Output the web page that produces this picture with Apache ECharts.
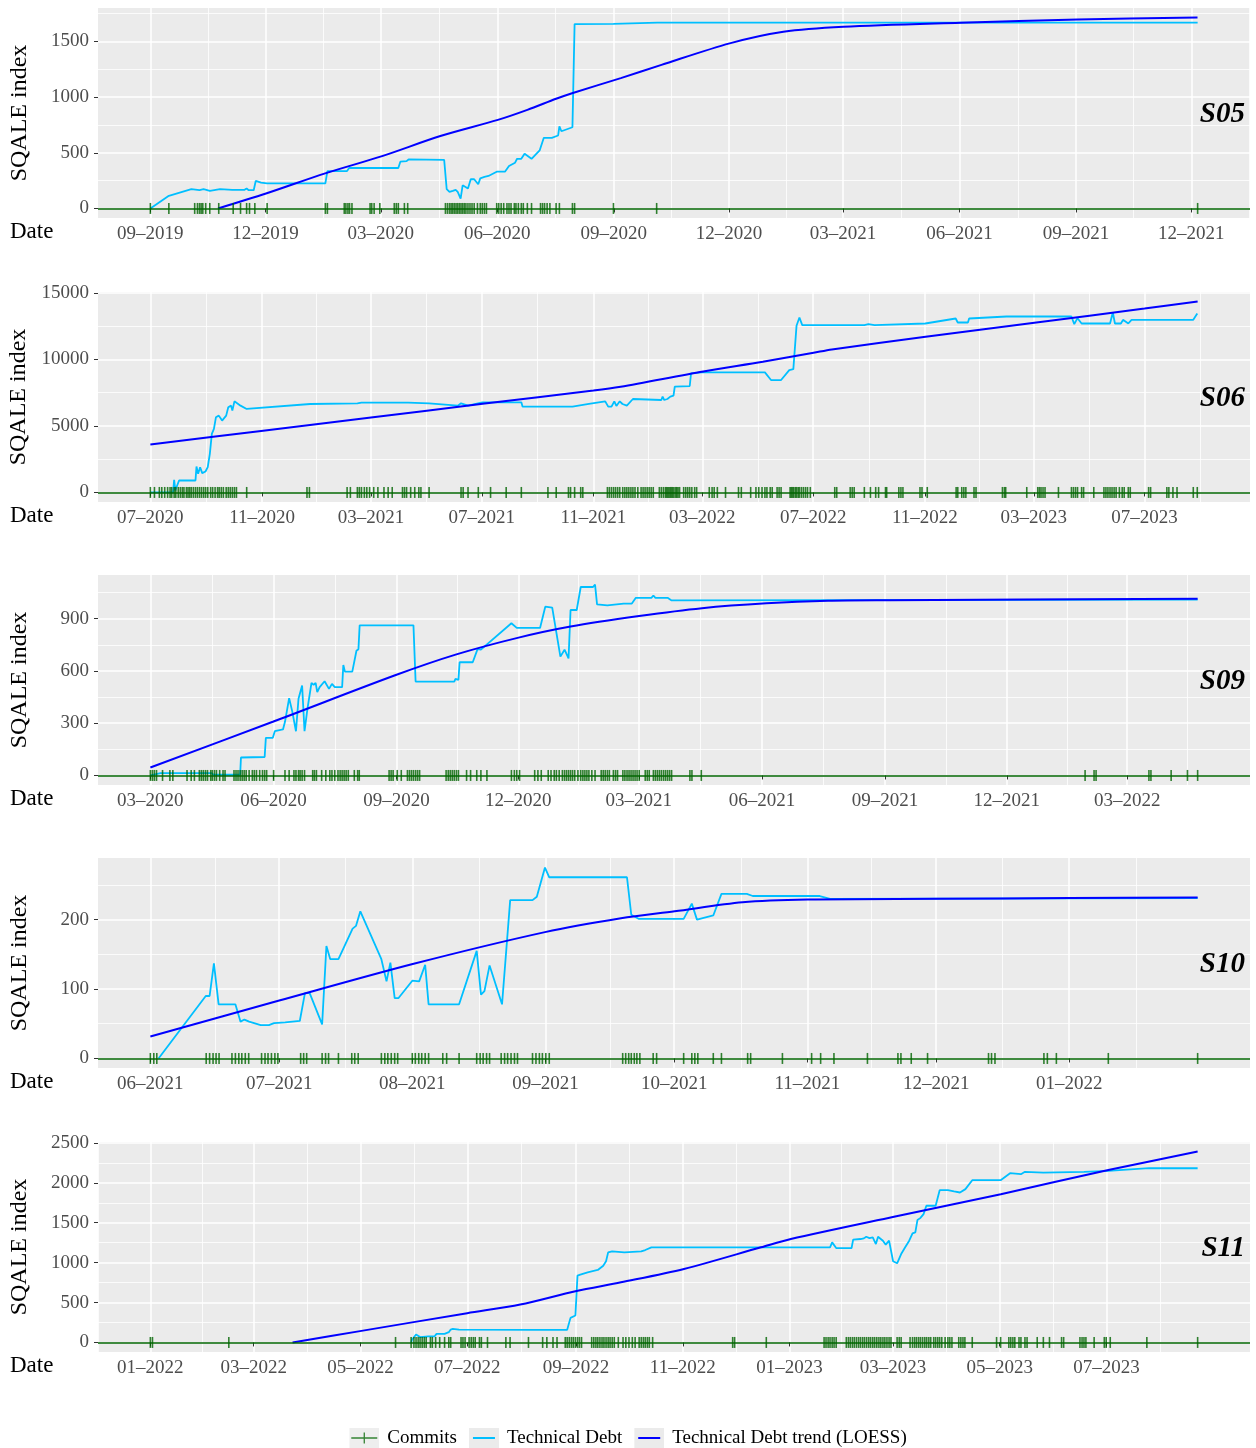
<!DOCTYPE html>
<html>
<head>
<meta charset="utf-8">
<script src="https://cdn.jsdelivr.net/npm/echarts@6/dist/echarts.min.js"></script>
<style>
html,body{margin:0;padding:0;background:#ffffff;}
#chart{width:1256px;height:1448px;}
</style>
</head>
<body>
<div id="chart"></div>
<script>
// ---------------- DATA (x = days since the project start date, y = SQALE index) ----------------
const PANEL_NAMES = ['S05', 'S06', 'S09', 'S10', 'S11'];
const SERIES_NAMES = ['Commits', 'Technical Debt', 'Technical Debt trend (LOESS)'];

// S05
const S05_START = '2019-09-01';
const S05_XTICKS = ['2019-09-01','2019-12-01','2020-03-01','2020-06-01','2020-09-01','2020-12-01','2021-03-01','2021-06-01','2021-09-01','2021-12-01'];
const S05_YTICKS = [0, 500, 1000, 1500];
const S05_DEBT = [[0,0],[14.6,113],[32.4,173],[38.8,164],[42,173],[47,158],[55,173],[64.7,167],[74.4,167],[76,179],[77.7,164],[81.6,164],[83.2,247],[87.4,232],[92.2,226],[138.2,226],[139.8,336],[155.3,336],[157,363],[195.8,363],[197.4,420],[202.3,425],[203.9,440],[232,437],[234,173],[236.2,149],[238.8,158],[241.1,167],[242.7,149],[245,89],[246.6,208],[250.8,179],[253,262],[255.7,262],[258.9,217],[260.5,270],[263.8,283],[267,292],[273.5,330],[280,330],[283.2,381],[288,411],[289.6,446],[292.9,446],[295.5,491],[301,446],[307.4,521],[310.7,634],[317,634],[322,655],[323,738],[324.6,693],[333.3,729],[335,1655],[365.7,1657],[400.4,1668],[827,1668]];
const S05_TREND = [[53.4,0],[91.3,134],[138,315],[183,470],[229,650],[274.4,795],[297.7,885],[320.4,985],[333,1035],[371.5,1170],[403.6,1289],[457.5,1482],[499.9,1586],[547.3,1631],[639.6,1667],[732.3,1696],[826.9,1714]];
const S05_COMMITS = [0,14.6,35,37.2,38.8,40.1,41.4,43.7,46.9,54,65.4,71.2,76,78.3,82.5,92.2,138.2,139.8,153.1,154.4,156,157.3,159.2,173.5,174.8,176.7,181.2,192.6,194.2,195.8,200.6,203.2,233,234.6,236.2,237.5,238.8,240.1,241.4,242.7,244,245.3,246.6,247.9,249.2,250.8,252.4,254,255.7,258.3,260.5,262.1,263.8,265.4,273.5,275.1,277,279,281.6,283.2,284.8,287.4,288.7,290.6,292.9,294.5,297.7,301,308.1,309.7,311.3,313.3,315.5,320.4,323,333.3,335,365.7,399.8,827];

// S06
const S06_START = '2020-07-01';
const S06_XTICKS = ['2020-07-01','2020-11-01','2021-03-01','2021-07-01','2021-11-01','2022-03-01','2022-07-01','2022-11-01','2023-03-01','2023-07-01'];
const S06_YTICKS = [0, 5000, 10000, 15000];
const S06_DEBT = [[0,0],[25,0],[26.2,950],[27.5,150],[31.6,900],[49.7,900],[50.8,1950],[52.6,1400],[54.8,1900],[57.1,1450],[60.7,1575],[63.2,1900],[65.5,2900],[67.7,4400],[70,4775],[72.2,5650],[75.4,5775],[79,5400],[83.5,5775],[85.8,6400],[88.9,6525],[90.3,6150],[92.6,6850],[99.3,6525],[106.1,6275],[176,6650],[228,6700],[230.2,6600],[232.5,6750],[284,6750],[307,6700],[338.6,6525],[342.2,6700],[349.9,6525],[365.7,6775],[408.6,6775],[410,6450],[465,6450],[483,6650],[501,6850],[504.3,6450],[507.9,6450],[511,6850],[513.3,6500],[517,6850],[520,6650],[524.8,6525],[531.5,7025],[562.8,6950],[564.2,7200],[566,6950],[569.5,7025],[572.7,7200],[576.2,7275],[577.6,7950],[594.1,8000],[595.5,8950],[607.5,9025],[676.9,9025],[683.6,8450],[694.7,8450],[703.7,9200],[708.2,9275],[710.4,9200],[711.7,12525],[714.9,13150],[718,12575],[786.4,12575],[790.9,12650],[797.6,12575],[853.5,12700],[887,13075],[889.3,12775],[900.5,12775],[901.8,13075],[942.9,13225],[1014.5,13225],[1015.9,13325],[1017.6,12650],[1021.2,13100],[1025.7,12700],[1057,12700],[1060.1,13525],[1062.4,12700],[1069,12700],[1071.3,12975],[1077.1,12700],[1080.7,12975],[1148.7,12975],[1153.1,13450]];
const S06_TREND = [[0,3600],[122,4620],[243,5630],[366,6660],[488,7660],[518,7950],[609,9100],[674.6,9825],[730.5,10500],[750.6,10750],[853.9,11700],[973.7,12750],[1095,13820],[1153.5,14350]];
const S06_COMMITS = [0,4.5,9.9,12.6,15.8,19,21.7,23.5,26.2,28,30.7,33,35.2,37,39.7,41.5,43.3,45.1,47.4,49.7,51.9,54.2,56.4,58.7,60.9,63.2,66.4,68.6,71.3,74,75.8,78.1,80.4,83.5,85.8,88,90.3,92.6,94.8,106.1,172.5,175.2,216.7,220.3,228,230.2,232.5,235.7,238.4,241.5,246,250.6,257.3,261.9,266.4,277.7,279.9,282.2,286.7,291.2,295.7,298,307,342.2,344.5,349.9,361.2,374.7,391.9,408.6,437.9,447,460.5,462.8,467.3,474,476.3,503.4,505.6,507.9,510.2,512.4,514.7,517,520.3,522.6,524.8,527,529.3,531.5,533.8,536.9,540.5,542.7,544.9,547.2,549.4,551.6,553.9,560.6,562.8,565.1,567.3,568.6,570,571.3,572.7,574,575.3,576.7,578.5,579.8,581.2,582.9,587.4,589.7,591.9,594.1,596.4,599.5,601.7,615.6,618.7,621,624.5,633.5,647.8,650.9,661.2,667,670.1,673.7,676.9,679.1,682.7,684.9,690.3,692.5,694.7,704.6,705.9,707.3,708.6,710.4,711.7,713.5,714.9,717.1,719.3,721.6,723.8,726.9,753.8,756,770.8,773,775.2,786.4,793.1,798.9,802.1,809.7,811,824.4,826.7,828.9,847.7,849.9,855.7,887.5,889.3,893.7,896,898.2,907.2,909.4,938.5,940.7,942.1,965.3,977.4,979.2,981,983.2,985.4,1000.2,1014.5,1016.7,1019,1021.2,1025.7,1027.9,1039.1,1050.3,1052.5,1054.7,1057,1059.2,1061.5,1063.7,1067.3,1070.4,1072.6,1077.1,1079.3,1099.5,1101.7,1119.6,1121.8,1126.3,1130.8,1148.7,1153.1];

// S09
const S09_START = '2020-03-01';
const S09_XTICKS = ['2020-03-01','2020-06-01','2020-09-01','2020-12-01','2021-03-01','2021-06-01','2021-09-01','2021-12-01','2022-03-01'];
const S09_YTICKS = [0, 300, 600, 900];
const S09_DEBT = [[0,0],[7.6,13],[45.7,13],[47.3,4],[67.1,4],[67.7,103],[85.4,106],[86.3,216],[91.5,216],[93,254],[99.1,264],[100.6,308],[103.7,444],[106.1,365],[108.8,254],[110.7,440],[111.9,440],[113.4,516],[115.2,254],[117.4,383],[120.4,532],[122,520],[123.5,532],[124.7,478],[126.5,507],[130.2,541],[133.5,497],[135.7,526],[137.8,507],[143.3,507],[144.2,634],[145.4,596],[150.9,596],[154,716],[155.5,725],[156.4,862],[196.6,862],[198.2,539],[227.1,539],[228,555],[230.2,549],[231.1,650],[240.9,650],[244.5,725],[247,722],[269.8,874],[273.8,847],[291.2,847],[295.1,969],[300.3,963],[306.4,682],[309.5,722],[312.5,672],[314,950],[318.6,950],[321.6,1082],[330.8,1082],[332.3,1096],[333.8,982],[341.5,976],[353.7,987],[359.8,987],[362.8,1020],[374.4,1020],[375.9,1033],[377.4,1020],[386.5,1020],[389.5,1005],[782.6,1010]];
const S09_TREND = [[0,46],[91.5,308],[182.9,575],[228.7,695],[274.4,790],[314,855],[365.2,915],[412.2,960],[460.3,988],[506.4,1003],[552.6,1006],[782.6,1014]];
const S09_COMMITS = [0,1.5,3,4.6,9.1,14.6,16.8,27.4,30.5,32.9,36.6,38.1,39.6,41.2,42.7,45.1,46.3,47.9,49.4,51.8,54.3,55.8,62.5,64,65.5,67.1,68.6,70.1,71.6,73.8,76.2,77.7,79.3,81.7,83.8,85.4,86.9,92.1,100.6,103.7,107.3,108.8,110.7,111.9,113.4,115.2,121.3,122.6,124.1,128,131.1,134.1,135.7,137.8,140.2,141.8,143.3,144.8,146.3,147.9,152.4,154.9,156.1,178.4,179.9,181.4,184.5,187.5,192.1,193.6,195.1,196.6,198.2,199.7,201.2,221,222.6,224.1,225.6,227.1,228.7,230.2,236.3,239.3,243.9,247,251.5,269.8,272,273.8,275.9,287.2,289.6,292.1,297.3,299.4,301.8,303.4,305.5,307.9,309.5,311,312.5,314,315.5,317.1,319.5,321.6,323.2,324.7,326.2,327.7,329.9,332.3,336.9,338.4,339.9,341.5,343,346,347.6,349.1,353.1,354.6,356.2,357.7,359.2,360.7,362.2,363.7,365.3,369.8,371.3,372.8,375.9,377.4,378.9,380.4,381.9,383.5,385,386.5,388,389.5,403.2,404.7,411.7,698.5,705.2,706.7,746.2,747.7,762.8,775,782.6];

// S10
const S10_START = '2021-06-01';
const S10_XTICKS = ['2021-06-01','2021-07-01','2021-08-01','2021-09-01','2021-10-01','2021-11-01','2021-12-01','2022-01-01'];
const S10_YTICKS = [0, 100, 200];
const S10_DEBT = [[1.9,0],[12.9,90],[13.8,90],[14.8,137],[15.9,78],[19.8,78],[21,53],[21.9,56],[23,53],[25.7,48],[27.6,48],[28.8,51],[31.4,52],[34.8,54],[36,94],[37.1,94],[40,49],[41,162],[41.9,143],[43.8,143],[47.1,187],[47.9,191],[48.9,212],[53.8,143],[55,111],[55.9,138],[56.9,87],[57.8,87],[61,112],[62.6,111],[63,109],[64,135],[64.8,78],[71.9,78],[76,155],[77,92],[77.8,97],[79,134],[81.9,78],[83.8,228],[89,228],[90,233],[91.9,275],[92.9,261],[111,261],[112,207],[113.8,201],[124.2,201],[126.1,223],[127.3,200],[131.1,206],[133,237],[138.9,237],[140.3,234],[155.9,234],[158.3,230],[243.9,231]];
const S10_TREND = [[0,31.6],[29.8,83],[61.1,136],[91.9,182],[109.6,202],[122.1,212],[137.9,225],[153.1,229],[183.1,230],[214.1,231],[243.9,232]];
const S10_COMMITS = [0,0.8,1.5,13,13.8,14.6,15.3,16,19,19.8,20.6,21.3,22.1,22.9,25.9,26.7,27.4,28.2,29,29.7,35,35.7,36.4,40,40.8,41.5,43.8,46.9,47.6,48.4,53.8,54.6,55.3,56.1,56.9,57.6,61,61.7,62.5,63.2,64,64.8,68.1,69,71.9,76,76.8,77.5,78.3,79,81.7,82.5,83.2,84,84.8,85.5,89,89.8,90.6,91.3,92.1,92.9,110,110.7,111.4,112,112.7,113.3,114,117.1,117.9,124.2,126.1,126.8,127.5,131.1,133,139.1,139.8,147.2,154,156.1,159.2,167,174.1,174.8,177.2,181,195.2,195.9,196.7,208.1,208.9,211,223.1,243.9];

// S11
const S11_START = '2022-01-01';
const S11_XTICKS = ['2022-01-01','2022-03-01','2022-05-01','2022-07-01','2022-09-01','2022-11-01','2023-01-01','2023-03-01','2023-05-01','2023-07-01'];
const S11_YTICKS = [0, 500, 1000, 1500, 2000, 2500];
const S11_DEBT = [[148.9,0],[149.4,33],[151.7,100],[154,67],[158.7,75],[162.2,75],[163.4,108],[168,108],[170.4,129],[171.5,162],[172.7,171],[176.2,162],[217,158],[238,158],[239.9,308],[242.7,337],[243.9,837],[245.5,850],[249.7,879],[252,892],[255.5,908],[258.6,962],[260.2,1017],[261.4,1129],[263.7,1142],[270.7,1129],[280.3,1142],[282.6,1158],[286.1,1192],[388.1,1192],[389.3,1254],[391.6,1183],[400.4,1183],[401.3,1288],[405.5,1296],[407.4,1304],[408.8,1325],[410.6,1308],[412.5,1317],[414.3,1233],[415.5,1325],[418.3,1275],[419.9,1225],[421.8,1275],[422.9,1283],[424.1,1017],[426.4,992],[428.7,1108],[431,1192],[433.3,1275],[435.2,1367],[436.8,1379],[438,1533],[439.6,1558],[441.5,1608],[443.1,1713],[448.4,1713],[450.7,1908],[455.4,1908],[458.9,1892],[462.3,1879],[465.4,1921],[469.3,2033],[485.5,2033],[490.9,2121],[497.1,2108],[499.4,2138],[509.9,2129],[533.1,2138],[534.2,2150],[547,2150],[570.2,2183],[598,2183]];
const S11_TREND = [[81.2,0],[119.7,142],[180.9,367],[211.2,475],[242.7,642],[268.7,754],[304.7,921],[348.7,1192],[365.7,1296],[424.6,1575],[485.6,1858],[547,2160],[598,2392]];
const S11_COMMITS = [0,1.2,44.8,140,148.9,150.5,151.7,152.9,154,155.2,156.4,157.5,159.9,161,162.9,165.2,168,170.4,171.5,177.4,178.5,179.7,182,183.2,184.4,185.5,187.9,189,192.5,203,205.4,215.9,224,226.4,229.9,232.2,236.9,238,239.2,240.4,241.5,242.7,243.9,245,246.2,252,253.2,254.4,255.5,256.7,257.9,259,260.2,261.4,262.5,263.7,264.9,267.2,269.9,271.5,273.3,275.2,276.8,279.1,280.3,281.5,282.6,283.8,284.9,286.8,332.5,333.6,351.7,384.7,385.8,387,388.1,389.3,390.4,391.6,397.4,398.6,399.7,400.9,402,403.2,404.4,405.5,406.7,407.8,409,410.2,411.3,412.5,413.6,414.8,416,417.1,418.3,419.4,420.6,421.8,422.9,426.4,427.6,428.7,433.8,435.2,436.4,437.5,438.7,439.8,441,442.2,443.3,444.5,445.6,447.3,448.4,449.6,450.7,451.9,453.8,455.4,456.5,457.7,461.6,462.8,464,465.1,469.3,483.2,485.5,490.2,491.3,492.5,493.6,496,497.1,499.4,500.6,506.4,509.9,513.4,520.3,521.5,530.8,532,533.1,534.2,538.9,544.7,545.8,548.1,569,598];

// ---------------- BUILD ----------------
const FONT = "'Liberation Serif','Times New Roman',serif";
const DAY = 86400000;
const C_COMMIT = '#006400', C_DEBT = '#00BFFF', C_TREND = '#0000FF';
const PANEL_TOPS = [8, 292, 575, 858, 1142];
const PANEL_H = 210, GRID_LEFT = 98, GRID_RIGHT = 6;

function ms(s) { const p = s.split('-').map(Number); return Date.UTC(p[0], p[1] - 1, p[2]); }
function minors(t, lo, hi) {
  const out = [];
  for (let k = 0; k < t.length - 1; k++) out.push((t[k] + t[k + 1]) / 2);
  out.unshift(t[0] - (t[1] - t[0]) / 2);
  out.push(t[t.length - 1] + (t[t.length - 1] - t[t.length - 2]) / 2);
  return out.filter(v => v > lo && v < hi);
}
function fmtDate(v) {
  const d = new Date(v);
  return String(d.getUTCMonth() + 1).padStart(2, '0') + '\u2013' + d.getUTCFullYear();
}

const PANELS = [
  { start: S05_START, xt: S05_XTICKS, yt: S05_YTICKS, debt: S05_DEBT, trend: S05_TREND, commits: S05_COMMITS },
  { start: S06_START, xt: S06_XTICKS, yt: S06_YTICKS, debt: S06_DEBT, trend: S06_TREND, commits: S06_COMMITS },
  { start: S09_START, xt: S09_XTICKS, yt: S09_YTICKS, debt: S09_DEBT, trend: S09_TREND, commits: S09_COMMITS },
  { start: S10_START, xt: S10_XTICKS, yt: S10_YTICKS, debt: S10_DEBT, trend: S10_TREND, commits: S10_COMMITS },
  { start: S11_START, xt: S11_XTICKS, yt: S11_YTICKS, debt: S11_DEBT, trend: S11_TREND, commits: S11_COMMITS }
];

const grids = [], xMajor = [], xMinor = [], yMajor = [], yMinor = [], series = [], titles = [];

PANELS.forEach((p, i) => {
  const s0 = ms(p.start);
  const toX = d => s0 + d * DAY;
  const debt = p.debt.map(a => [toX(a[0]), a[1]]);
  const trend = p.trend.map(a => [toX(a[0]), a[1]]);
  const commits = p.commits.map(d => [toX(d), 0]);
  const xs = debt.concat(trend, commits).map(a => a[0]);
  const x0 = Math.min(...xs), x1 = Math.max(...xs), xr = x1 - x0;
  const xMin = x0 - 0.05 * xr, xMax = x1 + 0.05 * xr;
  const ys = [0].concat(debt.map(a => a[1]), trend.map(a => a[1]));
  const y0 = Math.min(...ys), y1 = Math.max(...ys), yr = y1 - y0;
  const yMin = y0 - 0.05 * yr, yMax = y1 + 0.05 * yr;
  const xTicks = p.xt.map(ms);

  grids.push({ left: GRID_LEFT, right: GRID_RIGHT, top: PANEL_TOPS[i], height: PANEL_H,
    show: true, backgroundColor: '#EBEBEB', borderWidth: 0, outerBoundsMode: 'none', containLabel: false });

  xMajor.push({
    gridIndex: i, type: 'value', position: 'bottom', min: xMin, max: xMax,
    axisLine: { show: false },
    axisTick: { show: true, length: 4, lineStyle: { color: '#333333', width: 1 }, customValues: xTicks },
    axisLabel: { show: true, customValues: xTicks, formatter: fmtDate, color: '#4D4D4D',
      fontFamily: FONT, fontSize: 19, margin: 7, hideOverlap: false },
    splitLine: { show: true, lineStyle: { color: '#FFFFFF', width: 1.5 } }
  });
  xMinor.push({
    gridIndex: i, type: 'value', position: 'top', min: xMin, max: xMax,
    axisLine: { show: false }, axisLabel: { show: false },
    axisTick: { show: false, customValues: minors(xTicks, xMin, xMax) },
    splitLine: { show: true, lineStyle: { color: '#FFFFFF', width: 0.8 } }
  });
  yMajor.push({
    gridIndex: i, type: 'value', position: 'left', min: yMin, max: yMax,
    axisLine: { show: false },
    axisTick: { show: true, length: 4, lineStyle: { color: '#333333', width: 1 }, customValues: p.yt },
    axisLabel: { show: true, customValues: p.yt, formatter: v => String(v), color: '#4D4D4D',
      fontFamily: FONT, fontSize: 19, margin: 9 },
    splitLine: { show: true, lineStyle: { color: '#FFFFFF', width: 1.5 } },
    name: 'SQALE index', nameLocation: 'middle', nameGap: 66,
    nameTextStyle: { fontFamily: FONT, fontSize: 24, color: '#000000' }
  });
  yMinor.push({
    gridIndex: i, type: 'value', position: 'right', min: yMin, max: yMax,
    axisLine: { show: false }, axisLabel: { show: false },
    axisTick: { show: false, customValues: minors(p.yt, yMin, yMax) },
    splitLine: { show: true, lineStyle: { color: '#FFFFFF', width: 0.8 } }
  });

  series.push({
    type: 'line', name: SERIES_NAMES[1], xAxisIndex: i, yAxisIndex: i, data: debt,
    showSymbol: false, symbol: 'none', silent: true, z: 2,
    lineStyle: { color: C_DEBT, width: 1.8 }, itemStyle: { color: C_DEBT }
  });
  series.push({
    type: 'line', name: SERIES_NAMES[2], xAxisIndex: i, yAxisIndex: i, data: trend,
    showSymbol: false, symbol: 'none', silent: true, z: 3, smooth: 0.3,
    lineStyle: { color: C_TREND, width: 2 }, itemStyle: { color: C_TREND }
  });
  series.push({
    type: 'scatter', name: SERIES_NAMES[0], xAxisIndex: i, yAxisIndex: i, data: commits,
    symbol: 'rect', symbolSize: [1.6, 11], silent: true, z: 4,
    itemStyle: { color: C_COMMIT },
    markLine: { silent: true, symbol: ['none', 'none'], label: { show: false },
      lineStyle: { color: C_COMMIT, width: 1.5, type: 'solid' }, emphasis: { disabled: true },
      data: [{ yAxis: 0 }] }
  });

  titles.push({
    text: PANEL_NAMES[i], right: 11, top: PANEL_TOPS[i] + 92, padding: 0,
    textStyle: { fontFamily: FONT, fontSize: 29, fontWeight: 'bold', fontStyle: 'italic', color: '#000000' }
  });
  titles.push({
    text: 'Date', left: 10, top: PANEL_TOPS[i] + PANEL_H + 2, padding: 0,
    textStyle: { fontFamily: FONT, fontSize: 23, fontWeight: 'normal', color: '#000000' }
  });
});

function icon(inner) {
  const svg = "<svg xmlns='http://www.w3.org/2000/svg' width='30' height='20' viewBox='0 0 30 20'>" +
    "<rect width='30' height='20' fill='#EBEBEB'/>" + inner + "</svg>";
  return 'image://data:image/svg+xml;charset=utf-8,' + encodeURIComponent(svg);
}
const legendData = [
  { name: SERIES_NAMES[0], icon: icon("<path d='M2 10H28' stroke='" + C_COMMIT + "' stroke-width='1.5'/><path d='M15 4.5V15.5' stroke='" + C_COMMIT + "' stroke-width='1.3'/>") },
  { name: SERIES_NAMES[1], icon: icon("<path d='M4 10H26' stroke='" + C_DEBT + "' stroke-width='2'/>") },
  { name: SERIES_NAMES[2], icon: icon("<path d='M4 10H26' stroke='" + C_TREND + "' stroke-width='2'/>") }
];

const chart = echarts.init(document.getElementById('chart'), null, { renderer: 'canvas' });
chart.setOption({
  animation: false,
  backgroundColor: '#FFFFFF',
  title: titles,
  legend: {
    data: legendData, top: 1423, left: 'center', orient: 'horizontal',
    itemWidth: 30, itemHeight: 20, itemGap: 12, selectedMode: false,
    textStyle: { fontFamily: FONT, fontSize: 19, color: '#000000', padding: [0, 0, 0, 3] }
  },
  grid: grids,
  xAxis: xMajor.concat(xMinor),
  yAxis: yMajor.concat(yMinor),
  series: series
});
</script>
</body>
</html>
